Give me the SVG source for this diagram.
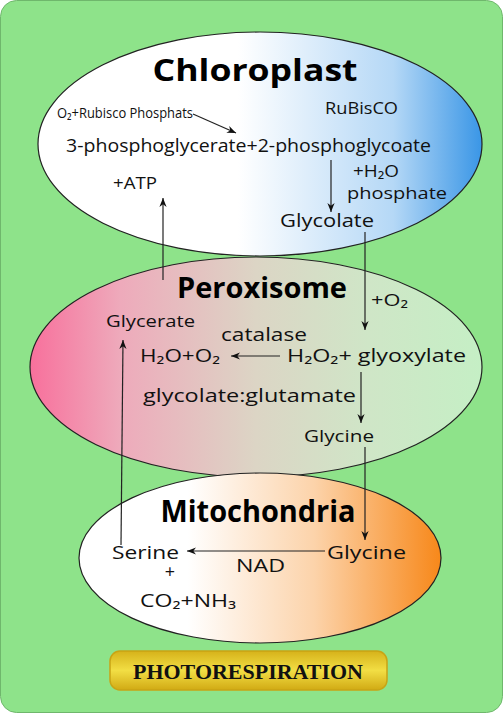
<svg xmlns="http://www.w3.org/2000/svg" width="503" height="714" viewBox="0 0 503 714">
<defs>
<linearGradient id="gC" x1="0" y1="0" x2="1" y2="0">
<stop offset="0" stop-color="#ffffff"/><stop offset="0.45" stop-color="#ffffff"/><stop offset="0.8" stop-color="#b5d8f6"/><stop offset="1" stop-color="#3a96e6"/>
</linearGradient>
<linearGradient id="gP" x1="0" y1="0" x2="1" y2="0">
<stop offset="0" stop-color="#f8709c"/><stop offset="0.2" stop-color="#eeaabb"/><stop offset="0.5" stop-color="#dcd5c5"/><stop offset="0.75" stop-color="#cfe6c7"/><stop offset="1" stop-color="#c5efc5"/>
</linearGradient>
<linearGradient id="gM" x1="0" y1="0" x2="1" y2="0">
<stop offset="0" stop-color="#ffffff"/><stop offset="0.3" stop-color="#ffffff"/><stop offset="0.65" stop-color="#fcd3aa"/><stop offset="1" stop-color="#f7881a"/>
</linearGradient>
<linearGradient id="gB" x1="0" y1="0" x2="0" y2="1">
<stop offset="0" stop-color="#d6b21a"/><stop offset="0.5" stop-color="#f2de44"/><stop offset="1" stop-color="#d1aa14"/>
</linearGradient>
<marker id="ah" viewBox="0 0 10 10" refX="10" refY="5" markerWidth="9" markerHeight="9" markerUnits="userSpaceOnUse" orient="auto">
<path d="M0,1 L10,5 L0,9 L3,5 Z" fill="#111"/>
</marker>
<style>
.t{font-family:"Open Sans","Liberation Sans",sans-serif;fill:#111;}
.h{font-family:"Open Sans","Liberation Sans",sans-serif;font-weight:bold;fill:#000;}
.org{stroke:#222;stroke-width:1.2;}
.c{stroke:#222;stroke-width:1.2;fill:none;marker-end:url(#ah);}
</style>
</defs>
<rect x="0.5" y="0.5" width="502" height="712" rx="16" fill="#8ee38a" stroke="#6fb76c" stroke-width="1"/>

<g id="chloroplast">
<ellipse cx="260" cy="144" rx="222" ry="112" fill="url(#gC)" class="org"/>
<text class="h" x="255" y="81" font-size="30" text-anchor="middle" textLength="205" lengthAdjust="spacingAndGlyphs">Chloroplast</text>
<text class="t" x="57" y="118" font-size="15" textLength="136" lengthAdjust="spacingAndGlyphs">O₂+Rubisco Phosphats</text>
<text class="t" x="325" y="114" font-size="16" textLength="73" lengthAdjust="spacingAndGlyphs">RuBisCO</text>
<text class="t" x="66" y="152" font-size="18" textLength="365" lengthAdjust="spacingAndGlyphs">3-phosphoglycerate+2-phosphoglycoate</text>
<text class="t" x="353" y="177" font-size="16" textLength="46" lengthAdjust="spacingAndGlyphs">+H₂O</text>
<text class="t" x="347" y="199" font-size="16" textLength="100" lengthAdjust="spacingAndGlyphs">phosphate</text>
<text class="t" x="113" y="189" font-size="17" textLength="44" lengthAdjust="spacingAndGlyphs">+ATP</text>
<text class="t" x="280" y="227" font-size="18" textLength="94" lengthAdjust="spacingAndGlyphs">Glycolate</text>
</g>

<g id="peroxisome">
<ellipse cx="256" cy="367" rx="226" ry="110" fill="url(#gP)" class="org"/>
<text class="h" x="262" y="298" font-size="28" text-anchor="middle" textLength="170" lengthAdjust="spacingAndGlyphs">Peroxisome</text>
<text class="t" x="106" y="327" font-size="17" textLength="89" lengthAdjust="spacingAndGlyphs">Glycerate</text>
<text class="t" x="221" y="341" font-size="18" textLength="86" lengthAdjust="spacingAndGlyphs">catalase</text>
<text class="t" x="140" y="362" font-size="18" textLength="80" lengthAdjust="spacingAndGlyphs">H₂O+O₂</text>
<text class="t" x="287" y="362" font-size="18" textLength="179" lengthAdjust="spacingAndGlyphs">H₂O₂+ glyoxylate</text>
<text class="t" x="143" y="402" font-size="18" textLength="213" lengthAdjust="spacingAndGlyphs">glycolate:glutamate</text>
<text class="t" x="304" y="442" font-size="17" textLength="70" lengthAdjust="spacingAndGlyphs">Glycine</text>
<text class="t" x="371" y="306" font-size="17" textLength="37" lengthAdjust="spacingAndGlyphs">+O₂</text>
</g>

<g id="mitochondria">
<ellipse cx="260" cy="558" rx="181" ry="85" fill="url(#gM)" class="org"/>
<text class="h" x="258" y="522" font-size="30" text-anchor="middle" textLength="195" lengthAdjust="spacingAndGlyphs">Mitochondria</text>
<text class="t" x="112" y="559" font-size="18" textLength="67" lengthAdjust="spacingAndGlyphs">Serine</text>
<text class="t" x="327" y="559" font-size="18" textLength="79" lengthAdjust="spacingAndGlyphs">Glycine</text>
<text class="t" x="236" y="572" font-size="18" textLength="49" lengthAdjust="spacingAndGlyphs">NAD</text>
<text class="t" x="170" y="578" font-size="18" text-anchor="middle">+</text>
<text class="t" x="140" y="607" font-size="18" textLength="96" lengthAdjust="spacingAndGlyphs">CO₂+NH₃</text>
</g>

<g id="title">
<rect x="110" y="651" width="277" height="39" rx="10" fill="url(#gB)" stroke="#c9a414" stroke-width="1.5"/>
<text x="248" y="679" font-family="'Liberation Serif',serif" font-weight="bold" font-size="22" text-anchor="middle" fill="#111" textLength="230" lengthAdjust="spacingAndGlyphs">PHOTORESPIRATION</text>
</g>

<g id="connectors">
<path class="c" d="M193,114 L236,133"/>
<path class="c" d="M331,160 L331,212"/>
<path class="c" d="M365,232 L365,330"/>
<path class="c" d="M163,280 L163,198"/>
<path class="c" d="M280,356 L231,356"/>
<path class="c" d="M361,372 L361,423"/>
<path class="c" d="M365,447 L365,540"/>
<path class="c" d="M121,545 L123,340"/>
<path class="c" d="M325,551 L187,551"/>
</g>
</svg>
